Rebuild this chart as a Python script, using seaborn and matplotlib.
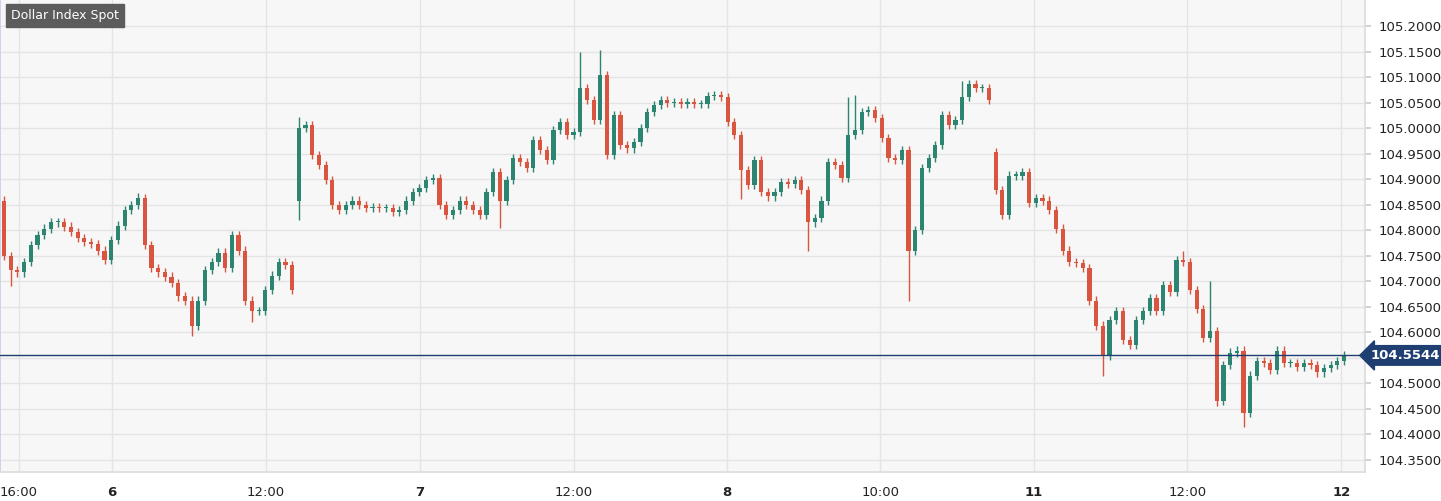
import numpy as np
import pandas as pd
import matplotlib
matplotlib.use("Agg")
import matplotlib.pyplot as plt
import seaborn as sns

# ---- data ----
closes = [104.749, 104.721, 104.717, 104.737, 104.770, 104.790, 104.803, 104.815, 104.815, 104.807,
          104.796, 104.784, 104.776, 104.772, 104.760, 104.741, 104.780, 104.809, 104.839, 104.849,
          104.862, 104.770, 104.725, 104.717, 104.709, 104.697, 104.670, 104.662, 104.613, 104.662,
          104.721, 104.737, 104.756, 104.725, 104.790, 104.760, 104.662, 104.642, 104.642, 104.682,
          104.711, 104.737, 104.731, 104.682, 105.000, 105.006, 104.947, 104.927, 104.898, 104.849,
          104.839, 104.849, 104.858, 104.849, 104.843, 104.845, 104.843, 104.843, 104.835, 104.839,
          104.858, 104.874, 104.882, 104.898, 104.902, 104.849, 104.829, 104.839, 104.858, 104.849,
          104.839, 104.829, 104.874, 104.913, 104.858, 104.898, 104.941, 104.933, 104.921, 104.976,
          104.957, 104.937, 104.996, 105.012, 104.986, 104.992, 105.078, 105.055, 105.015, 105.104,
          104.947, 105.025, 104.966, 104.960, 104.972, 105.000, 105.031, 105.045, 105.055, 105.049,
          105.051, 105.047, 105.051, 105.047, 105.047, 105.063, 105.065, 105.061, 105.012, 104.986,
          104.917, 104.888, 104.937, 104.874, 104.866, 104.874, 104.894, 104.890, 104.898, 104.878,
          104.815, 104.823, 104.858, 104.933, 104.927, 104.902, 104.986, 104.996, 105.031, 105.035,
          105.019, 104.980, 104.941, 104.937, 104.957, 104.760, 104.800, 104.921, 104.941, 104.966,
          105.025, 105.006, 105.015, 105.061, 105.086, 105.078, 105.078, 105.055, 104.878, 104.829,
          104.907, 104.907, 104.913, 104.854, 104.862, 104.858, 104.839, 104.803, 104.760, 104.737,
          104.735, 104.725, 104.662, 104.613, 104.554, 104.623, 104.642, 104.584, 104.574, 104.623,
          104.642, 104.666, 104.642, 104.692, 104.678, 104.741, 104.737, 104.682, 104.646, 104.588,
          104.603, 104.466, 104.535, 104.560, 104.564, 104.442, 104.515, 104.544, 104.540, 104.525,
          104.564, 104.540, 104.540, 104.531, 104.540, 104.535, 104.521, 104.529, 104.535, 104.544,
          104.5544]
first_open = 104.858
gap_opens = {44: 104.858, 148: 104.953}
spikes_high = {20: 104.872, 44: 105.022, 86: 105.149, 89: 105.153, 90: 105.110, 126: 105.060,
               127: 105.065, 135: 104.960, 143: 105.093, 176: 104.760, 180: 104.701, 145: 105.090}
spikes_low = {1: 104.690, 28: 104.593, 37: 104.620, 44: 104.819, 110: 104.860, 120: 104.760,
              135: 104.662, 164: 104.515, 181: 104.455, 185: 104.415, 74: 104.805}
default_wick = 0.008
last_price = 104.5544
tick_pos = [2.2, 16.1, 39.1, 62.1, 85.0, 107.9, 130.8, 153.7, 176.6, 199.6]
tick_labels = ["16:00", "6", "12:00", "7", "12:00", "8", "10:00", "11", "12:00", "12"]
bold_ticks = {"6", "7", "8", "11", "12"}
y_ticks = [round(104.35 + 0.05 * i, 2) for i in range(18)]
title = "Dollar Index Spot"

n = len(closes)
opens = [first_open] + closes[:-1]
for k, v in gap_opens.items():
    opens[k] = v
highs = [max(o, c) + default_wick for o, c in zip(opens, closes)]
lows = [min(o, c) - default_wick for o, c in zip(opens, closes)]
for k, v in spikes_high.items():
    highs[k] = max(highs[k], v)
for k, v in spikes_low.items():
    lows[k] = min(lows[k], v)
df = pd.DataFrame({"i": np.arange(n), "open": opens, "close": closes, "high": highs, "low": lows})
df["up"] = df["close"] >= df["open"]

UP, DOWN = "#2b8570", "#d9553f"

sns.set_theme(style="whitegrid")
fig = plt.figure(figsize=(14.41, 5.01), dpi=100)
ax = fig.add_axes([0.0, 0.058, 1365 / 1441, 0.942])
ax.set_facecolor("#f7f7f7")
fig.patch.set_facecolor("white")

colors = np.where(df["up"], UP, DOWN)
ax.vlines(df["i"], df["low"], df["high"], colors=colors, linewidth=1.0, zorder=3)
body = (df["close"] - df["open"]).abs().clip(lower=0.002)
bottom = df[["open", "close"]].min(axis=1)
ax.bar(df["i"], body, bottom=bottom, width=0.62, color=colors, linewidth=0, zorder=4)

ax.set_xlim(-0.6, 1365 / 6.72)
ax.set_ylim(104.326, 105.251)
ax.set_yticks(y_ticks)
ax.yaxis.tick_right()
ax.set_yticklabels(["" if abs(v - 104.55) < 1e-9 else f"{v:.4f}" for v in y_ticks],
                   fontsize=9.5, color="#222222")
ax.set_xticks(tick_pos)
ax.set_xticklabels(tick_labels, fontsize=9.5, color="#222222")
for lab in ax.get_xticklabels():
    if lab.get_text() in bold_ticks:
        lab.set_fontweight("bold")
ax.tick_params(axis="both", length=4, color="#cccccc", pad=6)
ax.grid(True, color="#e4e4e4", linewidth=1)
ax.spines["top"].set_visible(False)
ax.spines["left"].set_color("#c9cfe6")
ax.spines["bottom"].set_color("#dddddd")
ax.spines["right"].set_color("#dddddd")

ax.axhline(last_price, color="#1f3f73", linewidth=1, zorder=5)
ax.text(1.004, last_price, f"{last_price:.4f}", transform=ax.get_yaxis_transform(),
        ha="left", va="center", fontsize=9.5, fontweight="bold", color="white",
        bbox=dict(boxstyle="larrow,pad=0.25", fc="#1f3f73", ec="#1f3f73"), zorder=6, clip_on=False)
ax.text(0.008, 0.967, title, transform=ax.transAxes, ha="left", va="center", fontsize=9,
        color="white", bbox=dict(boxstyle="square,pad=0.4", fc="#5c5c5c", ec="#5c5c5c"), zorder=6)

fig.savefig("out.png", dpi=100)
